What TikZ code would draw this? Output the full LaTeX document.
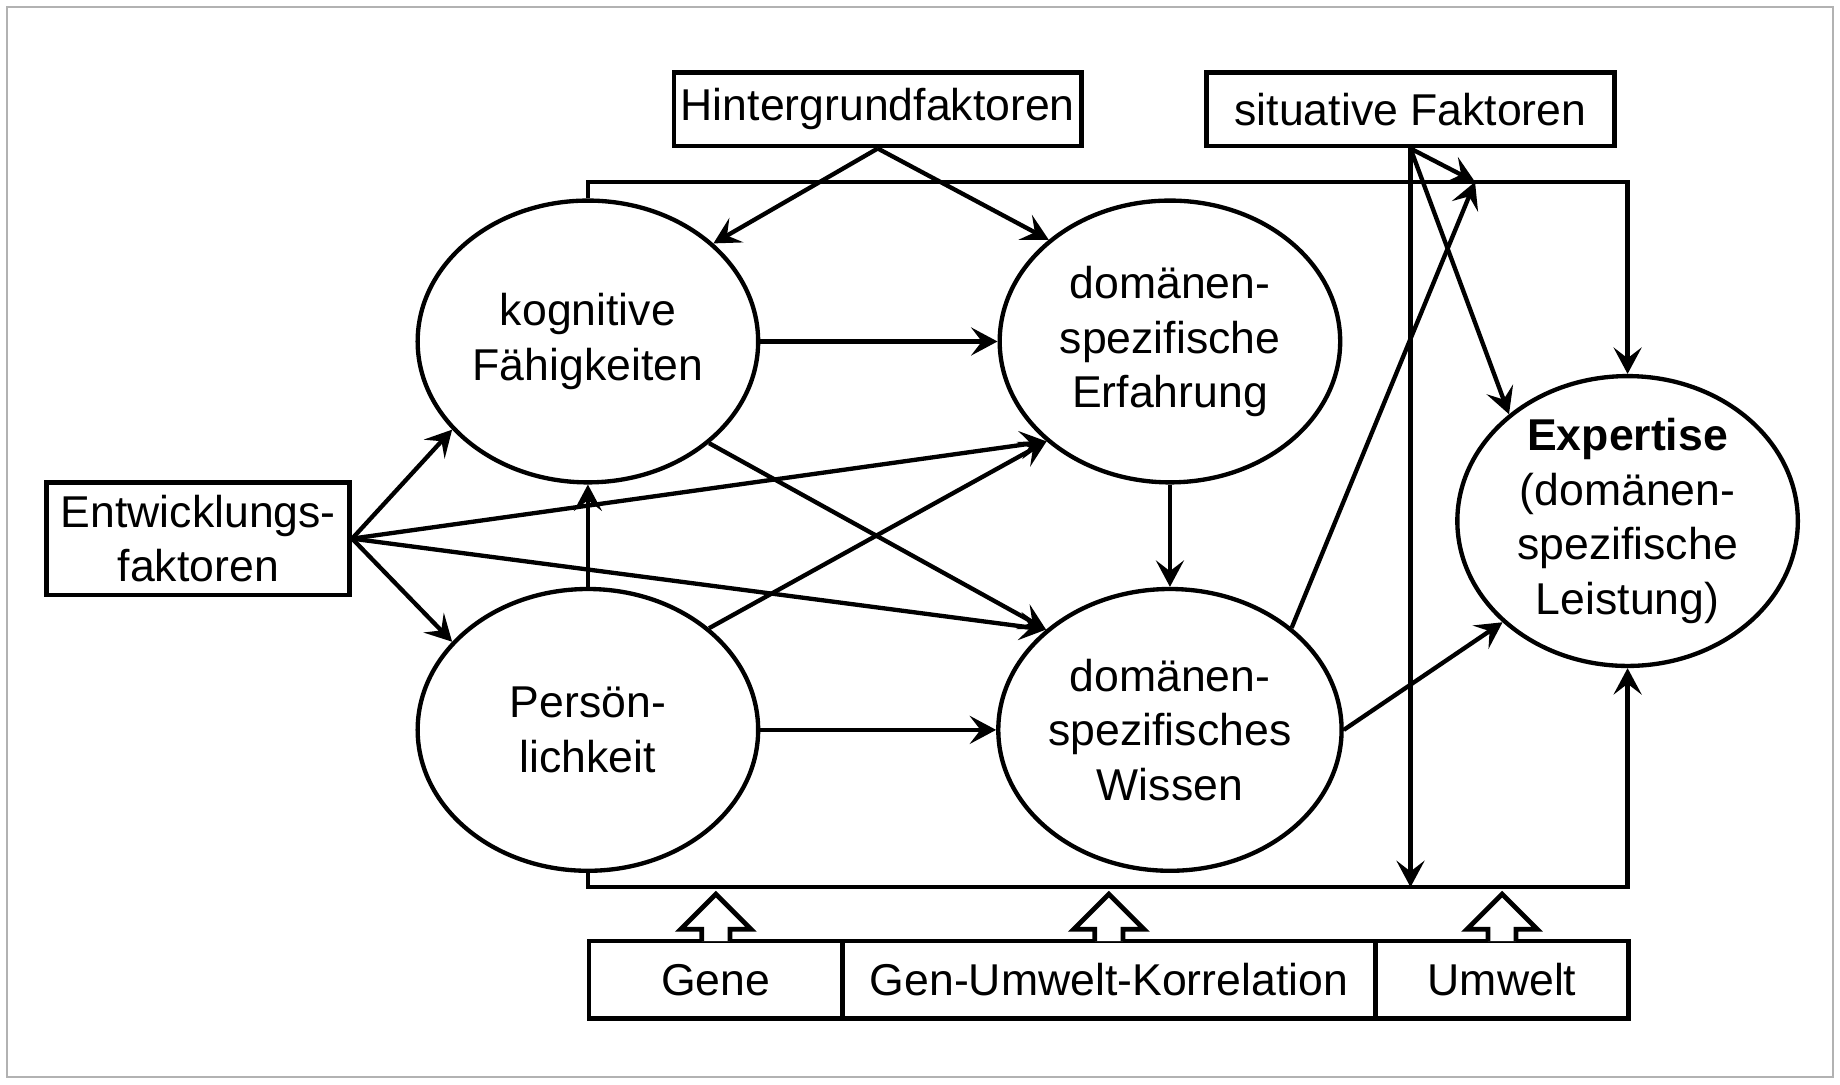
\documentclass[tikz,border=0pt]{standalone}
\usepackage{fontspec}
\setmainfont{Liberation Sans}
\usetikzlibrary{arrows.meta,shapes.geometric}

\begin{document}
\begin{tikzpicture}[x=0.01cm,y=-0.01cm,line width=1.05pt,>={Stealth[length=6.4pt,width=6.8pt,inset=2.6pt]},
  font=\fontsize{10.8}{13.2}\selectfont,
  factor/.style={draw,line width=1.15pt,inner sep=0pt,align=center,minimum height=0.63cm},
  construct/.style={draw,ellipse,inner sep=0pt,align=center,minimum width=2.9cm,minimum height=2.4cm},
  source/.style={draw,line width=1.15pt,inner sep=0pt,minimum height=0.66cm}]
\useasboundingbox (0,0) rectangle (1568,924);
\draw[gray!60,line width=0.6pt] (6,6) rectangle (1562,918);
\node[factor,minimum width=3.47cm] (hin) at (748,93) {Hintergrundfaktoren};
\node[factor,minimum width=3.48cm] (sit) at (1202,93) {situative Faktoren};
\node[factor,minimum width=2.58cm,minimum height=0.96cm] (ent) at (169,459) {Entwicklungs-\\faktoren};
\node[construct] (kog) at (501,291) {kognitive\\Fähigkeiten};
\node[construct] (erf) at (997,291) {domänen-\\spezifische\\Erfahrung};
\node[construct] (pers) at (501,622) {Persön-\\lichkeit};
\node[construct] (wis) at (997,622) {domänen-\\spezifisches\\Wissen};
\node[construct,minimum height=2.42cm] (exp) at (1387,444) {\textbf{Expertise}\\(domänen-\\spezifische\\Leistung)};
\node[source,minimum width=2.16cm] (gene) at (610,835) {Gene};
\node[source,minimum width=4.54cm] (guk) at (945,835) {Gen-Umwelt-Korrelation};
\node[source,minimum width=2.16cm] (umw) at (1280,835) {Umwelt};
\coordinate (jn) at (1257,155);
\coordinate (bl) at (1202,756);
% frame round the model
\draw[->] (kog.north) |- (jn) -| (exp.north);
\draw[->] (pers.south) |- (bl) -| (exp.south);
% background and situation
\draw[->] (hin.south) -- (kog.38);
\draw[->] (hin.south) -- (erf.140);
\draw[->] (sit.south) -- (bl);
\draw[->] (sit.south) -- (jn);
\draw[->] (sit.south) -- (exp.138);
% development
\draw[->] (ent.east) -- (kog.213);
\draw[->] (ent.east) -- (pers.147);
\draw[->] (ent.east) -- (erf.219);
\draw[->] (ent.east) -- (wis.141);
% between the constructs
\draw[->] (kog) -- (erf);
\draw[->] (pers) -- (wis);
\draw[->] (pers) -- (kog);
\draw[->] (erf) -- (wis);
\draw[->] (kog.-40) -- (wis.141);
\draw[->] (pers.40) -- (erf.219);
\draw[->] (wis.40) -- (jn);
\draw[->] (wis.east) -- (exp.219);
% block arrows from below
\foreach \b in {gene,guk,umw}
  \filldraw[fill=white,line width=1.15pt] ([xshift=-0.12cm,yshift=-0.02cm]\b.north) -- ++(0,-10) -- ++(-18,0) -- ++(30,-30) -- ++(30,30) -- ++(-18,0) -- ++(0,10);
\end{tikzpicture}
\end{document}
